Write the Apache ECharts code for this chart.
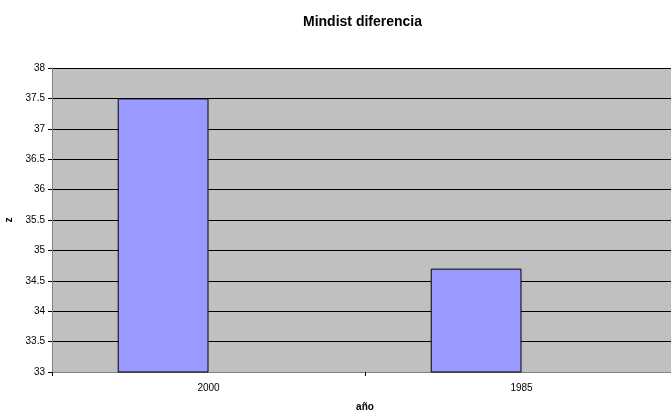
<!DOCTYPE html>
<html>
<head>
<meta charset="utf-8">
<script src="https://cdn.jsdelivr.net/npm/echarts@6/dist/echarts.min.js"></script>
<style>
  html, body { margin: 0; padding: 0; background: #ffffff; }
  #chart { width: 671px; height: 412px; }
</style>
</head>
<body>
<div id="chart"></div>
<script>
// Year categories and their z values
const categories = ['2000', '1985'];
const zValues = [37.5, 34.7];
// second series of the workbook has no values; it only reserves its slot beside each bar
const emptyValues = [null, null];
const yTicks = { min: 33, max: 38, step: 0.5 };

const chart = echarts.init(document.getElementById('chart'), null, { renderer: 'canvas' });

const font = 'Liberation Sans, Arial, sans-serif';

chart.setOption({
  animation: false,
  backgroundColor: '#ffffff',
  title: {
    text: 'Mindist diferencia',
    left: 298,
    top: 10,
    textStyle: { fontFamily: font, fontSize: 14, fontWeight: 'bold', color: '#000' }
  },
  grid: {
    left: 52,
    top: 68,
    width: 626,
    height: 304,
    containLabel: false,
    outerBoundsMode: 'none',
    show: true,
    backgroundColor: '#c0c0c0',
    borderWidth: 0
  },
  xAxis: {
    type: 'category',
    data: categories,
    name: 'año',
    nameLocation: 'middle',
    nameGap: 30,
    nameTextStyle: { fontFamily: font, fontSize: 10, fontWeight: 'bold', color: '#000' },
    axisLine: { show: true, lineStyle: { color: '#808080', width: 1 } },
    axisTick: { show: true, alignWithLabel: false, length: 4, lineStyle: { color: '#000' } },
    axisLabel: { fontFamily: font, fontSize: 10, color: '#000', margin: 11 },
    splitLine: { show: false }
  },
  yAxis: {
    type: 'value',
    min: yTicks.min,
    max: yTicks.max,
    interval: yTicks.step,
    name: 'z',
    nameLocation: 'middle',
    nameGap: 31,
    nameRotate: 90,
    nameTextStyle: { fontFamily: font, fontSize: 10, fontWeight: 'bold', color: '#000' },
    axisLine: { show: true, lineStyle: { color: '#808080', width: 1 } },
    axisTick: { show: true, length: 4, lineStyle: { color: '#000' } },
    axisLabel: {
      fontFamily: font, fontSize: 10, color: '#000', margin: 7,
      formatter: v => String(Math.round(v * 10) / 10)
    },
    splitLine: { show: true, lineStyle: { color: '#000', width: 1 } }
  },
  series: [
    {
      type: 'bar',
      data: zValues,
      barWidth: '29%',
      barGap: '0%',
      itemStyle: { color: '#9999ff', borderColor: '#000', borderWidth: 1 }
    },
    {
      type: 'bar',
      data: emptyValues,
      barWidth: '29%',
      itemStyle: { color: '#993366', borderColor: '#000', borderWidth: 1 }
    }
  ]
});
</script>
</body>
</html>
